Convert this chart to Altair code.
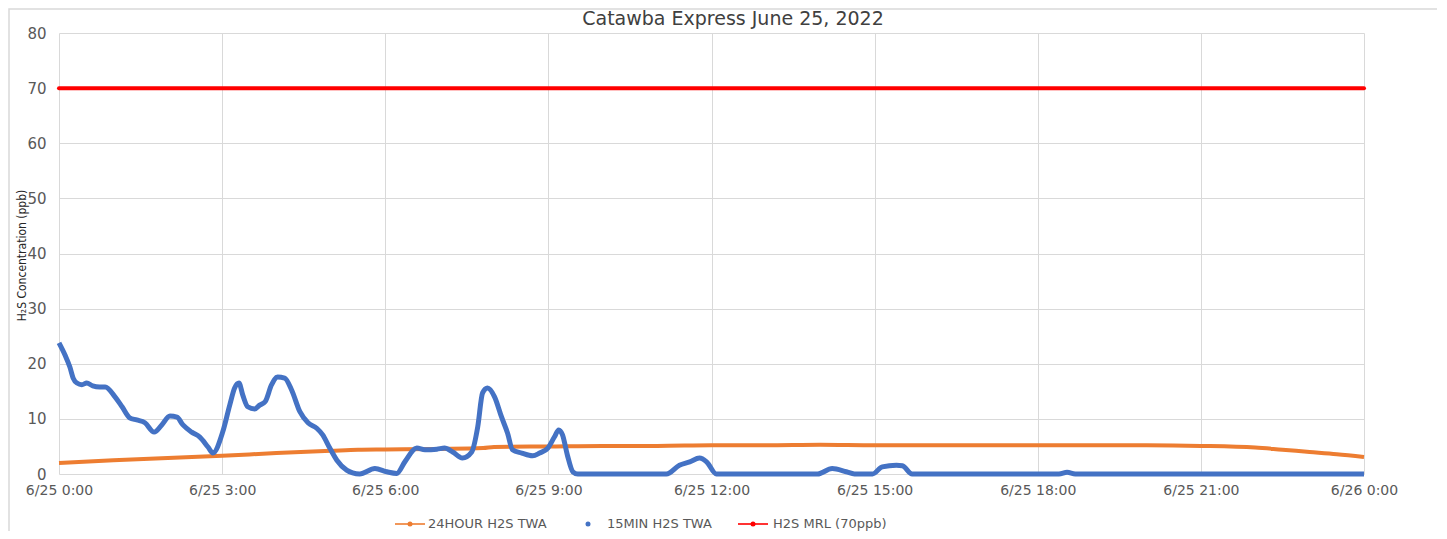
import altair as alt
import pandas as pd

# ---------------- data ----------------
TITLE = "Catawba Express June 25, 2022"
Y_TITLE = "H₂S Concentration (ppb)"

blue_hours = [0.00, 0.11, 0.20, 0.26, 0.33, 0.42, 0.51, 0.62, 0.75, 0.85,
              1.03, 1.16, 1.30, 1.43, 1.58, 1.75, 1.89, 2.04, 2.17, 2.28,
              2.44, 2.59, 2.74, 2.83, 3.01, 3.14, 3.23, 3.31, 3.38, 3.47,
              3.60, 3.69, 3.79, 3.91, 4.02, 4.15, 4.28, 4.43, 4.58, 4.74,
              4.85, 4.98, 5.11, 5.29, 5.40, 5.53, 5.81, 6.03, 6.21, 6.36,
              6.58, 6.73, 6.95, 7.09, 7.24, 7.42, 7.59, 7.70, 7.79, 7.88,
              8.01, 8.14, 8.25, 8.34, 8.51, 8.71, 8.84, 8.99, 9.11, 9.19,
              9.26, 9.35, 9.45, 9.54, 11.17, 11.41, 11.60, 11.78, 11.91, 12.09,
              13.95, 14.22, 14.48, 14.63, 14.96, 15.14, 15.40, 15.51, 15.69, 18.39,
              18.54, 18.69, 24.00]
blue_vals = [23.8, 21.6, 19.4, 17.4, 16.5, 16.2, 16.5, 16.0, 15.8, 15.8,
             14.0, 12.2, 10.2, 9.8, 9.3, 7.6, 8.9, 10.5, 10.3, 8.9,
             7.6, 6.7, 4.9, 3.8, 7.6, 12.5, 15.6, 16.5, 14.3, 12.2,
             11.8, 12.5, 13.1, 16.2, 17.6, 17.4, 15.2, 11.3, 9.3, 8.3,
             7.1, 4.7, 2.5, 0.7, 0.2, 0.0, 1.0, 0.4, 0.1, 2.2,
             4.7, 4.4, 4.5, 4.7, 4.0, 2.9, 4.0, 8.5, 14.7, 15.6,
             14.0, 10.3, 7.4, 4.4, 3.8, 3.3, 3.8, 4.7, 6.7, 8.0,
             7.1, 3.4, 0.4, 0.0, 0.0, 1.6, 2.2, 2.9, 2.2, 0.0,
             0.0, 1.0, 0.4, 0.0, 0.0, 1.3, 1.6, 1.5, 0.0, 0.0,
             0.3, 0.0, 0.0]

orange_hours = [0, 1, 2, 3, 4, 5, 5.5, 6, 7, 7.8, 8, 9, 10, 11, 12, 13, 14, 15,
                16, 17, 18, 19, 20, 21, 22, 22.5, 23, 23.5, 24]
orange_vals = [2.0, 2.5, 2.9, 3.3, 3.8, 4.2, 4.4, 4.45, 4.55, 4.7, 4.9, 5.0, 5.1, 5.1,
               5.2, 5.2, 5.3, 5.2, 5.2, 5.2, 5.2, 5.2, 5.2, 5.1, 4.8, 4.4, 4.0, 3.6, 3.1]

mrl_hours = [0, 24]
mrl_vals = [70, 70]

x_ticks = [0, 3, 6, 9, 12, 15, 18, 21, 24]
x_tick_labels = ["6/25 0:00", "6/25 3:00", "6/25 6:00", "6/25 9:00", "6/25 12:00",
                 "6/25 15:00", "6/25 18:00", "6/25 21:00", "6/26 0:00"]
y_ticks = [0, 10, 20, 30, 40, 50, 60, 70, 80]

legend_labels = ["24HOUR H2S TWA", "15MIN H2S TWA", "H2S MRL (70ppb)"]
colors = ["#ed7d31", "#4472c4", "#ff0000"]

# ---------------- layout ----------------
W, H = 1305, 441
FONT = "DejaVu Sans"
TXT = "#595959"

label_expr = ("[" + ",".join("'%s'" % s for s in x_tick_labels) + "][indexof(["
              + ",".join(str(v) for v in x_ticks) + "], datum.value)]")

xscale = alt.Scale(domain=[0, 24], nice=False, zero=False)
yscale = alt.Scale(domain=[0, 80], nice=False)

xaxis = alt.Axis(values=x_ticks, labelExpr=label_expr, title=None, grid=True,
                 gridColor="#d9d9d9", domain=False, ticks=False, labelFont=FONT,
                 labelFontSize=14, labelColor=TXT, labelPadding=9, labelOverlap=False,
                 labelFlush=False)
yaxis = alt.Axis(values=y_ticks, title=Y_TITLE, grid=True, gridColor="#d9d9d9",
                 domain=False, ticks=False, labelFont=FONT, labelFontSize=15,
                 labelColor=TXT, labelPadding=13,
                 titleFont="DejaVu Sans Condensed, Roboto Condensed, Liberation Sans",
                 titleFontSize=12, titleFontWeight="normal", titleColor="#262626",
                 titleAngle=270, titleX=-38, titleY=222, titleAlign="center",
                 titleBaseline="middle")

orange_df = pd.DataFrame({"h": orange_hours, "v": orange_vals})
blue_df = pd.DataFrame({"h": blue_hours, "v": blue_vals})
mrl_df = pd.DataFrame({"h": mrl_hours, "v": mrl_vals})

base_axes = alt.Chart(mrl_df).mark_point(opacity=0).encode(
    x=alt.X("h:Q", scale=xscale, axis=xaxis),
    y=alt.Y("v:Q", scale=yscale, axis=yaxis),
)

orange = alt.Chart(orange_df).mark_line(color=colors[0], strokeWidth=4,
                                        interpolate="monotone").encode(
    x=alt.X("h:Q", scale=xscale), y=alt.Y("v:Q", scale=yscale))
blue = alt.Chart(blue_df).mark_line(color=colors[1], strokeWidth=5,
                                    interpolate="monotone").encode(
    x=alt.X("h:Q", scale=xscale), y=alt.Y("v:Q", scale=yscale))
red = alt.Chart(mrl_df).mark_line(color=colors[2], strokeWidth=4,
                                  strokeCap="round").encode(
    x=alt.X("h:Q", scale=xscale), y=alt.Y("v:Q", scale=yscale))

one = alt.Data(values=[{}])

frame = alt.Chart(one).mark_rect(fill=None, stroke="#d9d9d9", strokeWidth=1.5).encode(
    x=alt.value(-50), x2=alt.value(1379), y=alt.value(-24), y2=alt.value(540))

title = alt.Chart(one).mark_text(text=TITLE, font=FONT, fontSize=19, color="#404040",
                                 align="center", baseline="middle").encode(
    x=alt.value(674), y=alt.value(-14))

LY = 491
FS = 13
leg_layers = []
# orange: line + dot
leg_layers.append(alt.Chart(one).mark_rule(color=colors[0], strokeWidth=2, opacity=0.8).encode(
    x=alt.value(336), x2=alt.value(366), y=alt.value(LY)))
leg_layers.append(alt.Chart(one).mark_circle(color=colors[0], size=25, opacity=1).encode(
    x=alt.value(351), y=alt.value(LY)))
leg_layers.append(alt.Chart(one).mark_text(text=legend_labels[0], font=FONT, fontSize=FS,
                                           color=TXT, align="left", baseline="middle").encode(
    x=alt.value(369), y=alt.value(LY)))
# blue: dot
leg_layers.append(alt.Chart(one).mark_circle(color=colors[1], size=25, opacity=1).encode(
    x=alt.value(529), y=alt.value(LY)))
leg_layers.append(alt.Chart(one).mark_text(text=legend_labels[1], font=FONT, fontSize=FS,
                                           color=TXT, align="left", baseline="middle").encode(
    x=alt.value(548), y=alt.value(LY)))
# red: line + dot
leg_layers.append(alt.Chart(one).mark_rule(color=colors[2], strokeWidth=2, opacity=0.8).encode(
    x=alt.value(679), x2=alt.value(709), y=alt.value(LY)))
leg_layers.append(alt.Chart(one).mark_circle(color=colors[2], size=25, opacity=1).encode(
    x=alt.value(694), y=alt.value(LY)))
leg_layers.append(alt.Chart(one).mark_text(text=legend_labels[2], font=FONT, fontSize=FS,
                                           color=TXT, align="left", baseline="middle").encode(
    x=alt.value(714), y=alt.value(LY)))

chart = alt.layer(base_axes, frame, orange, blue, red, title, *leg_layers).properties(
    width=W, height=H,
    autosize=alt.AutoSizeParams(type="none"),
    padding={"left": 51, "top": 25, "right": 73, "bottom": 57},
    background="white",
).configure_view(stroke=None)

chart.save("out.html", embed_options={"renderer": "svg", "actions": False})
